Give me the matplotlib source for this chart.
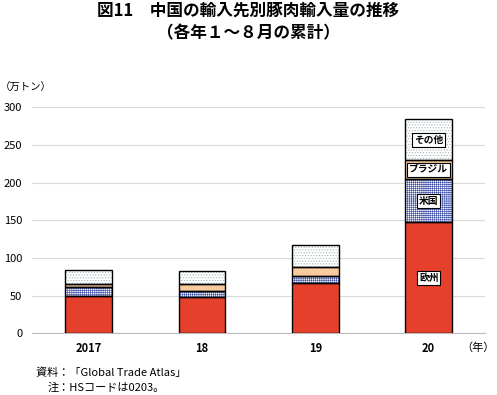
import matplotlib
matplotlib.use("Agg")
import matplotlib.pyplot as plt
import numpy as np

plt.rcParams['font.family'] = ['Noto Sans CJK JP', 'DejaVu Sans']
plt.rcParams['hatch.linewidth'] = 0.45

years = ["2017", "18", "19", "20"]
series_names = ["欧州", "米国", "ブラジル", "その他"]
eu = [50, 48, 66.4, 148]
us = [11, 8, 10, 56.5]
brazil = [4.5, 9.5, 12, 25.5]
other = [18.5, 17, 28.5, 54]
yticks = [0, 50, 100, 150, 200, 250, 300]

fig = plt.figure(figsize=(4.97, 3.95), dpi=100)
ax = fig.add_axes([0.0644, 0.156, 0.912, 0.572])

x = np.arange(len(years))
w = 0.41
styles = [
    dict(color="#E5402B", hatch=None, hc=None),
    dict(color="white", hatch="++++++++", hc="#4455AA"),
    dict(color="#F8CB9C", hatch=None, hc=None),
    dict(color="white", hatch="......", hc="#9DB4B8"),
]
data = [eu, us, brazil, other]
bottom = np.zeros(len(years))
for vals, st in zip(data, styles):
    vals = np.array(vals)
    if st["hatch"]:
        ax.bar(x, vals, w, bottom=bottom, color=st["color"], hatch=st["hatch"],
               edgecolor=st["hc"], linewidth=0, zorder=2)
    else:
        ax.bar(x, vals, w, bottom=bottom, color=st["color"], linewidth=0, zorder=2)
    ax.bar(x, vals, w, bottom=bottom, fill=False, edgecolor="black", linewidth=1.0, zorder=3)
    bottom += vals

# labels inside the 2020 bar
i = 3
cum = 0
for name, vals in zip(series_names, data):
    mid = cum + vals[i] / 2
    cum += vals[i]
    ax.text(x[i], mid, name, ha="center", va="center", fontsize=7, fontweight="bold",
            zorder=5, bbox=dict(boxstyle="square,pad=0.2", fc="white", ec="black", lw=0.8))

ax.set_xlim(-0.5, 3.5)
ax.set_ylim(0, 300)
ax.set_yticks(yticks)
ax.set_yticklabels([str(t) for t in yticks], fontsize=8)
ax.set_xticks(x)
ax.set_xticklabels(years, fontsize=8, fontweight="bold")
ax.tick_params(axis="both", length=0, pad=6)
ax.tick_params(axis="y", pad=7)
ax.grid(axis="y", color="#D9D9D9", linewidth=0.8, zorder=0)
ax.set_axisbelow(True)
for s in ["top", "right", "left"]:
    ax.spines[s].set_visible(False)
ax.spines["bottom"].set_color("#BBBBBB")
ax.spines["bottom"].set_linewidth(0.8)

fig.text(0.5, 0.972, "図11　中国の輸入先別豚肉輸入量の推移", ha="center", va="center",
         fontsize=12, fontweight="bold")
fig.text(0.5, 0.915, "（各年１～８月の累計）", ha="center", va="center",
         fontsize=12, fontweight="bold")
fig.text(0.0, 0.778, "（万トン）", ha="left", va="center", fontsize=7.5)
fig.text(0.995, 0.121, "（年）", ha="right", va="center", fontsize=8)
fig.text(0.072, 0.056, "資料：「Global Trade Atlas」", ha="left", va="center", fontsize=8)
fig.text(0.095, 0.018, "注：HSコードは0203。", ha="left", va="center", fontsize=8)

fig.savefig("out.png", dpi=100)
